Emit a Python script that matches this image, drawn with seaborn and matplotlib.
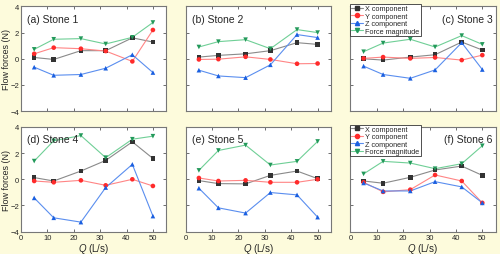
import numpy as np
import pandas as pd
import seaborn as sns
import matplotlib.pyplot as plt
from matplotlib.lines import Line2D


q = [5, 12.4, 22.7, 32.1, 42.2, 50]
stones = ["(a) Stone 1", "(b) Stone 2", "(c) Stone 3",
          "(d) Stone 4", "(e) Stone 5", "(f) Stone 6"]
components = ["X component", "Y component", "Z component", "Force magnitude"]

x_comp = [
    [0.10, -0.05, 0.62, 0.62, 1.60, 1.28],
    [0.13, 0.26, 0.38, 0.62, 1.23, 1.10],
    [0.00, -0.10, 0.13, 0.31, 1.28, 0.67],
    [0.13, -0.13, 0.63, 1.44, 2.86, 1.59],
    [-0.10, -0.33, -0.35, 0.30, 0.63, 0.05],
    [-0.13, -0.30, 0.15, 0.71, 1.01, 0.30],
]
y_comp = [
    [0.38, 0.85, 0.77, 0.59, -0.20, 2.20],
    [-0.05, -0.03, 0.15, -0.05, -0.38, -0.36],
    [0.03, 0.13, 0.03, 0.10, -0.10, 0.28],
    [-0.13, -0.23, -0.08, -0.46, 0.00, -0.51],
    [0.10, -0.13, -0.08, -0.23, -0.23, 0.00],
    [-0.23, -0.96, -0.79, 0.33, -0.13, -1.80],
]
z_comp = [
    [-0.64, -1.26, -1.20, -0.72, 0.31, -1.05],
    [-0.87, -1.31, -1.44, -0.46, 1.85, 1.62],
    [-0.56, -1.20, -1.49, -0.85, 1.23, -0.82],
    [-1.42, -2.94, -3.27, -0.63, 1.14, -2.81],
    [-0.68, -2.18, -2.58, -1.01, -1.19, -2.89],
    [-0.28, -0.89, -0.89, -0.18, -0.58, -1.80],
]
magnitude = [
    [0.72, 1.49, 1.54, 1.13, 1.64, 2.77],
    [0.90, 1.31, 1.46, 0.77, 2.23, 2.00],
    [0.54, 1.20, 1.49, 0.90, 1.77, 1.10],
    [1.39, 2.94, 3.34, 1.65, 3.06, 3.29],
    [0.68, 2.20, 2.61, 1.09, 1.37, 2.89],
    [0.41, 1.37, 1.24, 0.81, 1.19, 2.56],
]

rows = []
for i, stone in enumerate(stones):
    for comp, vals in zip(components, [x_comp, y_comp, z_comp, magnitude]):
        for qq, v in zip(q, vals[i]):
            rows.append({"stone": stone, "component": comp, "Q": qq, "force": v})
df = pd.DataFrame(rows)

marker_colors = {"X component": "#333333", "Y component": "#ff2b2b",
                 "Z component": "#1a5fe0", "Force magnitude": "#23995a"}
line_colors = {"X component": "#8a8a8a", "Y component": "#ff8585",
               "Z component": "#5a8eef", "Force magnitude": "#6fcf96"}
markers = {"X component": "s", "Y component": "o",
           "Z component": "^", "Force magnitude": "v"}

sns.set_theme(style="ticks")
plt.rcParams["font.family"] = ["Liberation Sans", "DejaVu Sans"]
plt.rcParams["mathtext.fontset"] = "custom"
plt.rcParams["mathtext.it"] = "Liberation Sans:italic"
plt.rcParams["mathtext.rm"] = "Liberation Sans"

fig, axes = plt.subplots(2, 3, figsize=(5, 2.55), dpi=100, sharex=True, sharey=True)
fig.patch.set_facecolor("#fdfbdc")
fig.subplots_adjust(left=0.042, right=0.991, bottom=0.0875, top=0.971,
                    wspace=0.135, hspace=0.15)

for i, ax in enumerate(axes.flat):
    sub = df[df["stone"] == stones[i]]
    ax.set_facecolor("white")
    sns.lineplot(data=sub, x="Q", y="force", hue="component", palette=line_colors,
                 sort=False, lw=0.8, legend=False, ax=ax)
    sns.scatterplot(data=sub, x="Q", y="force", hue="component", style="component",
                    palette=marker_colors, markers=markers, s=11, linewidth=0,
                    legend=False, ax=ax, zorder=3)
    ax.set_xlim(0, 55)
    ax.set_ylim(-4, 4)
    ax.set_xticks([0, 10, 20, 30, 40, 50])
    ax.set_yticks([-4, -2, 0, 2, 4])
    ax.tick_params(direction="in", top=True, right=True, length=2.5, width=0.6,
                   labelsize=5.5, pad=1.5, color="#555555")
    for sp in ax.spines.values():
        sp.set_color("#777777")
        sp.set_linewidth(0.8)
    ax.set_xlabel("")
    ax.set_ylabel("")
    if i % 3 == 2:
        ax.text(0.98, 0.93, stones[i], transform=ax.transAxes, ha="right", va="top",
                fontsize=7.5)
        handles = [Line2D([], [], color=line_colors[c], lw=0.8, marker=markers[c],
                          markersize=3, markerfacecolor=marker_colors[c],
                          markeredgecolor=marker_colors[c]) for c in components]
        leg = ax.legend(handles, components, loc="upper left", bbox_to_anchor=(0, 1.02),
                        borderaxespad=0, fontsize=5.2, frameon=True, fancybox=False,
                        edgecolor="#333333", framealpha=1, labelspacing=0.05,
                        handlelength=1.6, handletextpad=0.3, borderpad=0.15)
        leg.get_frame().set_linewidth(0.6)
    else:
        ax.text(0.04, 0.93, stones[i], transform=ax.transAxes, ha="left", va="top",
                fontsize=7.5)
    if i % 3 == 0:
        ax.set_ylabel("Flow forces (N)", fontsize=6.5)
        ax.yaxis.set_label_coords(-0.07, 0.5)
    if i >= 3:
        ax.set_xlabel(r"$Q$ (L/s)", fontsize=7, labelpad=0.5)

fig.savefig("out.png", dpi=100, facecolor=fig.get_facecolor())
plt.close(fig)
